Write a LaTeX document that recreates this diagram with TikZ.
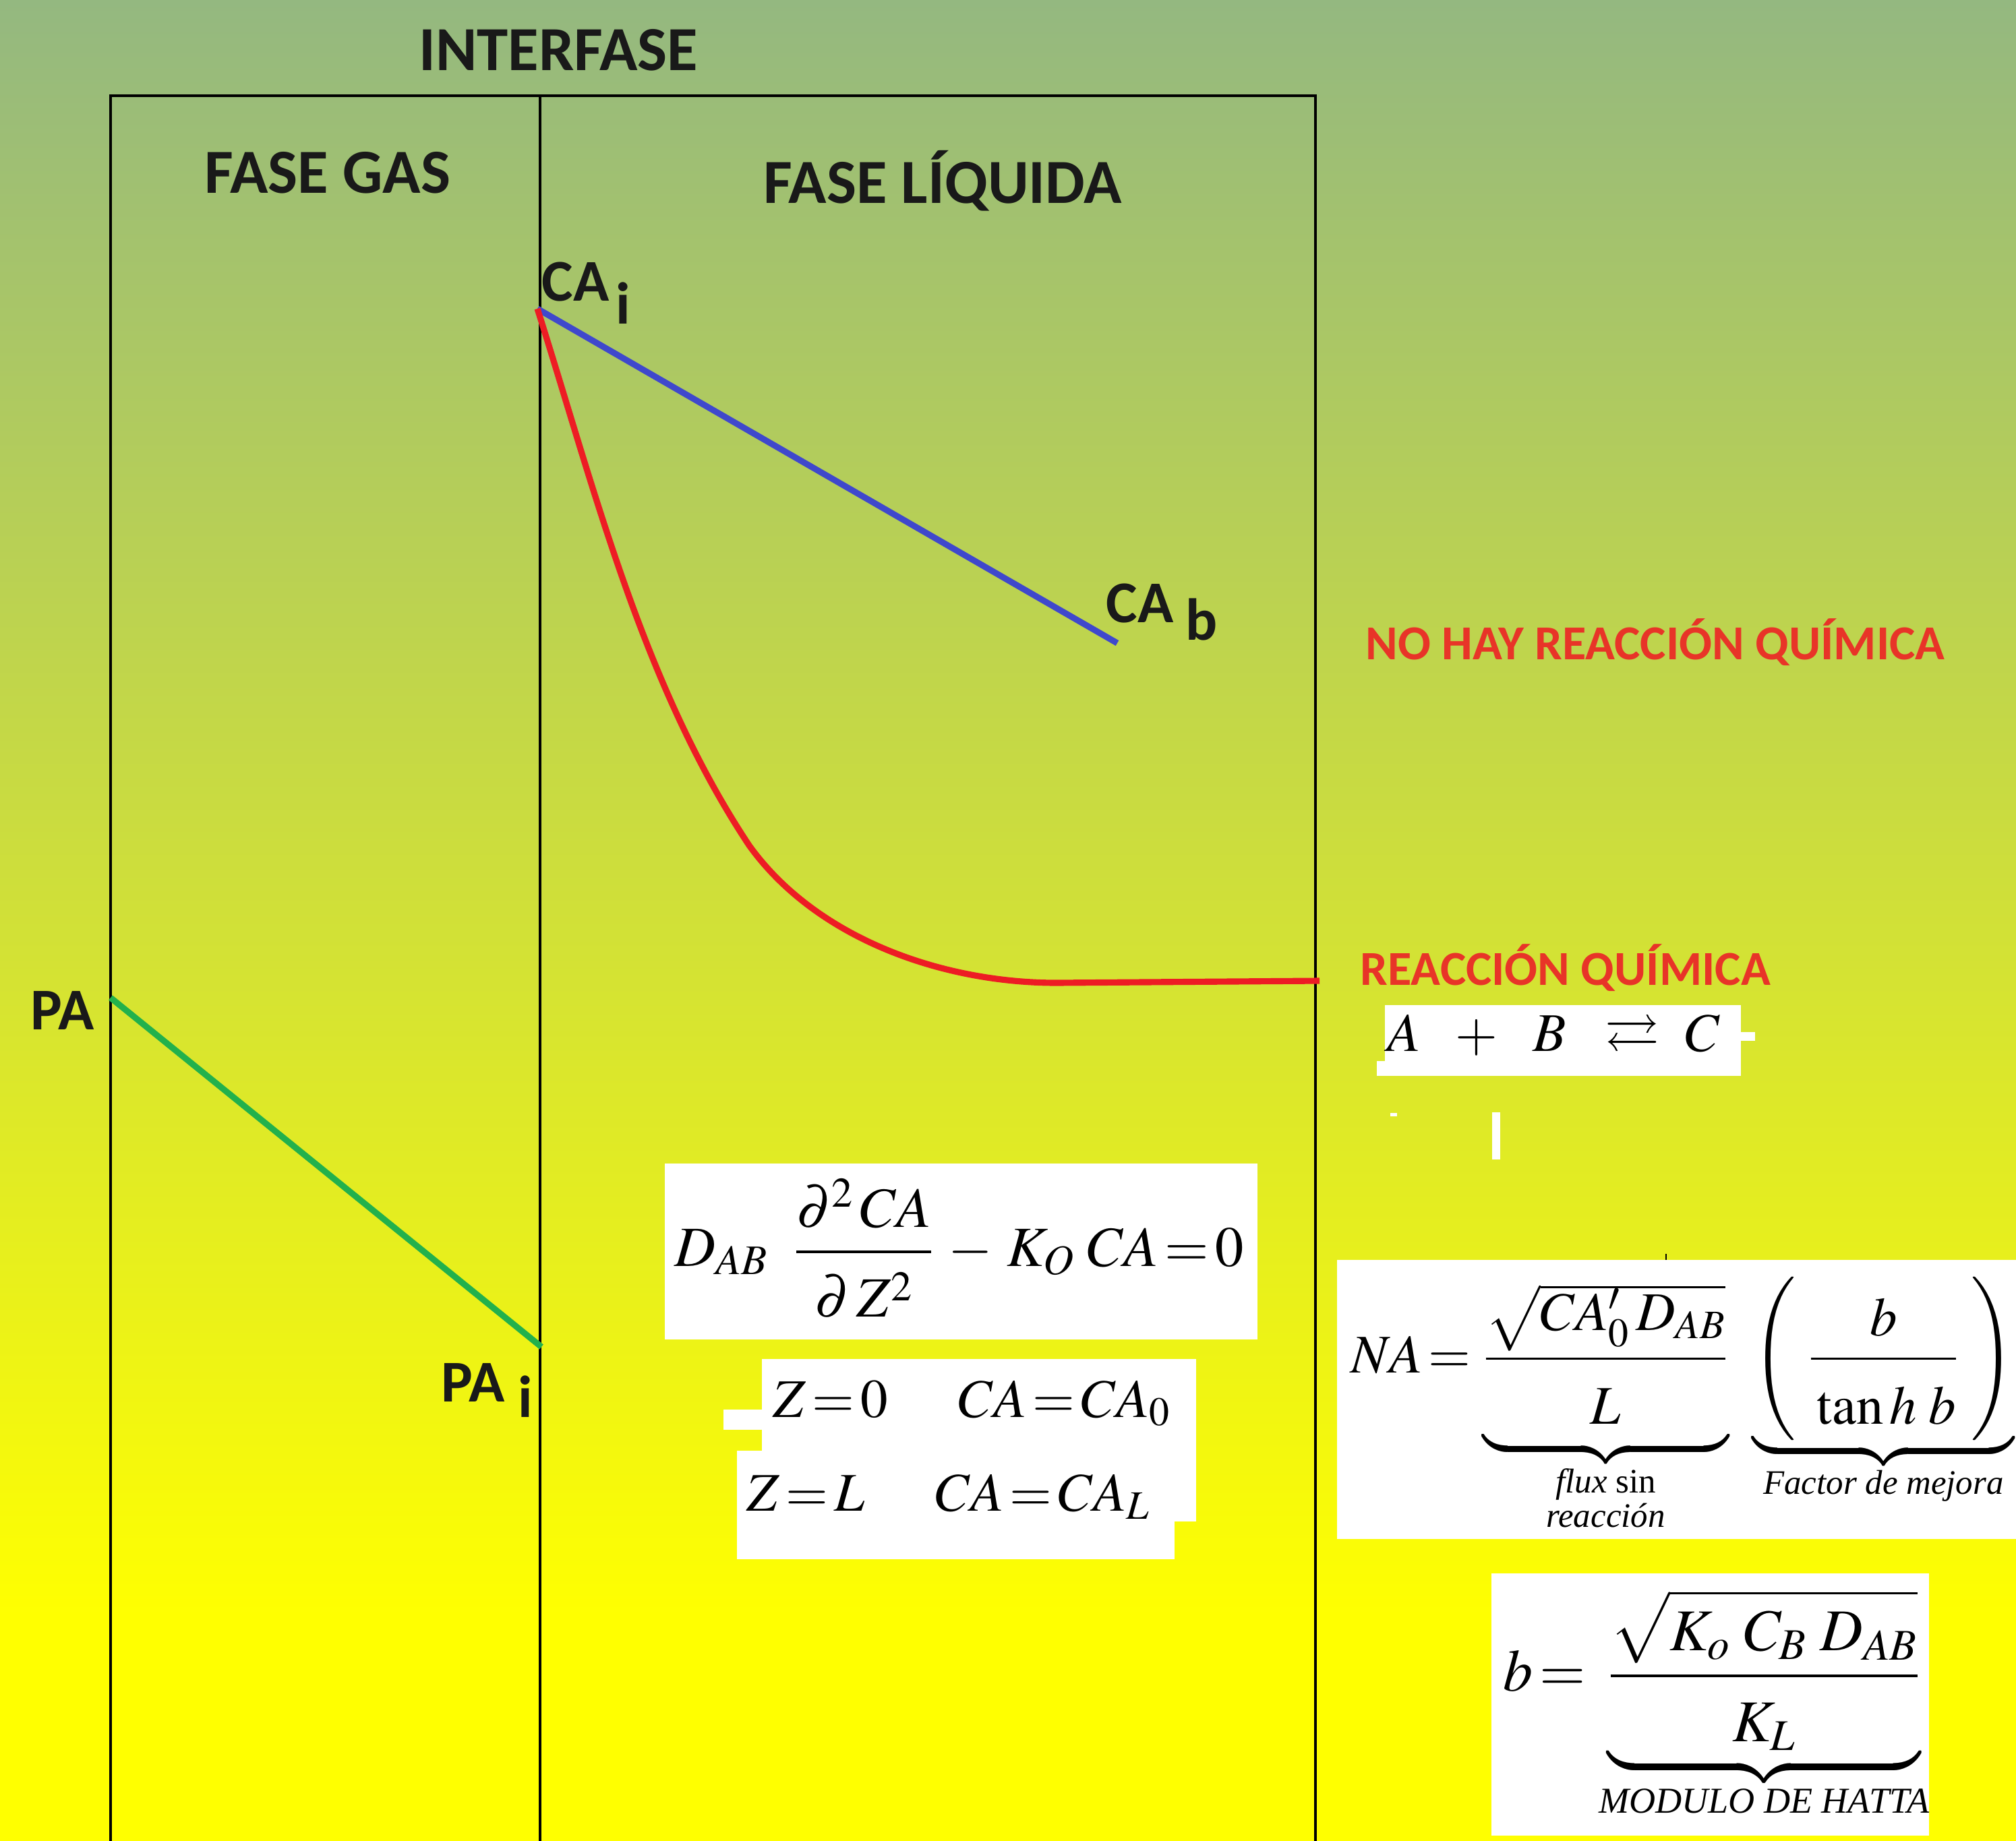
\documentclass[tikz,border=0pt]{standalone}
\usepackage{amsmath,amssymb}
\usepackage{mathptmx}
\usepackage{fontspec}
\setmainfont{Liberation Serif}
\newfontfamily\calibri{Carlito}
\usetikzlibrary{positioning, calc}

\definecolor{bgtop}{RGB}{148,184,128}
\definecolor{bgbot}{RGB}{255,255,0}
\definecolor{paintred}{RGB}{237,28,36}
\definecolor{paintblue}{RGB}{63,72,204}
\definecolor{paintgreen}{RGB}{34,177,76}
\definecolor{lblred}{RGB}{232,52,40}

% small italic text under the braces
\newcommand{\bracetxt}[2][14.5]{\text{\fontsize{#1}{#1}\selectfont #2}}
\newcommand{\deep}{\rule{0pt}{0.85cm}}
\newcommand{\deeper}{\rule[-0.22cm]{0pt}{1.07cm}}

\begin{document}
\begin{tikzpicture}[
    head/.style={font=\calibri\bfseries\fontsize{26.5}{30}\selectfont, text=black!90, inner sep=0pt},
    lbl/.style={font=\calibri\bfseries\fontsize{25}{30}\selectfont, text=black!90, inner sep=0pt},
    redlbl/.style={font=\calibri\bfseries\fontsize{20.6}{24}\selectfont, text=lblred, inner sep=0pt},
    eq/.style={font=\fontsize{23}{28}\selectfont, inner sep=0pt, anchor=base west},
    wbox/.style={fill=white},
    wall/.style={line width=1.1pt},
    prof/.style={line width=2.6pt}
]

% BACKGROUND (2990 x 2731 px, 1cm = 100px)
\useasboundingbox (0,0) rectangle (29.90,-27.31);
\shade[top color=bgtop, bottom color=bgbot] (0,0) rectangle (29.90,-24.0);
\fill[bgbot] (0,-24.0) rectangle (29.90,-27.31);

% PHASES
\draw[wall] (1.64,-27.31) -- (1.64,-1.42) -- (19.51,-1.42) -- (19.51,-27.31);
\draw[wall] (8.01,-1.42) -- (8.01,-27.31);

\node[head, anchor=base] (interfase) at (8.28,-1.05) {INTERFASE};
\node[head, anchor=base] (gas) at (4.86,-2.86) {FASE GAS};
\node[head, anchor=base] (liq) at (13.98,-3.01) {FASE LÍQUIDA};

% PROFILE POINTS
\coordinate (cai) at (7.97,-4.58);
\coordinate (cab) at (16.57,-9.54);
\coordinate (rmid) at (11.11,-12.54);
\coordinate (rflat) at (15.67,-14.58);
\coordinate (rend) at (19.57,-14.55);
\coordinate (pa) at (1.64,-14.80);
\coordinate (pai) at (8.03,-19.98);

\node[lbl, anchor=base west] (lcai) at (8.03,-4.46) {CA\kern0.1cm\raisebox{-0.34cm}{i}};
\node[lbl, anchor=base west] (lcab) at (16.40,-9.23) {CA\kern0.18cm\raisebox{-0.26cm}{b}};
\node[lbl, anchor=base west] (lpa) at (0.45,-15.27) {PA};
\node[lbl, anchor=base west] (lpai) at (6.54,-20.79) {PA\kern0.2cm\raisebox{-0.23cm}{i}};

% PROFILES
\draw[paintblue, prof] (cai) -- (cab);
\draw[paintred, prof] (cai) .. controls (8.82,-7.26) and (9.53,-10.16) .. (rmid)
    .. controls (12.10,-13.92) and (13.97,-14.58) .. (rflat) -- (rend);
\draw[paintgreen, prof] (pa) -- (pai);

% RED LABELS
\node[redlbl, anchor=base west] (nohay) at (20.25,-9.78) {NO HAY REACCIÓN QUÍMICA};
\node[redlbl, anchor=base west] (hay) at (20.17,-14.61) {REACCIÓN QUÍMICA};

% REACTION
\fill[wbox] (20.54,-14.91) rectangle (25.82,-15.96);
\fill[wbox] (20.42,-15.74) rectangle (20.54,-15.96);
\fill[wbox] (25.82,-15.31) rectangle (26.03,-15.44);
\fill[wbox] (20.62,-16.51) rectangle (20.72,-16.56);
\fill[wbox] (22.13,-16.50) rectangle (22.25,-17.20);
\node[eq] (reac) at (20.57,-15.59) {$A\ \ +\ \ B\ \ \rightleftarrows\ C$};

% DIFFERENTIAL EQUATION
\fill[wbox] (9.86,-17.26) rectangle (18.65,-19.87);
\node[eq, font=\fontsize{24}{28}\selectfont] (eqdif) at (10.00,-18.78)
    {$D_{AB}\;\;\dfrac{\partial^2\,CA}{\deep\partial\,Z^2}\,-\,K_O\;CA\,{=}\,0$};

% BOUNDARY CONDITIONS
\fill[wbox] (11.30,-20.16) rectangle (17.74,-22.57);
\fill[wbox] (10.93,-21.52) rectangle (17.42,-23.13);
\fill[wbox] (10.73,-20.91) rectangle (11.30,-21.21);
\node[eq] (z0) at (11.46,-21.02) {$Z\,{=}\,0\hspace{1.05cm}CA\,{=}\,CA_0$};
\node[eq] (zl) at (11.07,-22.41) {$Z\,{=}\,L\hspace{1.05cm}CA\,{=}\,CA_L$};

% FLUX
\fill[wbox] (19.83,-18.69) rectangle (29.90,-22.83);
\draw[line width=0.8pt] (24.71,-18.60) -- (24.71,-18.69);
\node[eq] (na) at (20.03,-20.36)
    {$NA\,{=}\,\underbrace{\dfrac{\sqrt{\rule{0pt}{0.45cm}\smash[t]{CA_0'}\,D_{AB}}}{\deeper L}}_{\bracetxt{\begin{tabular}{@{}c@{}}\textit{flux} sin\\ \textit{reacción}\end{tabular}}}\;\,
      \underbrace{\left(\;\dfrac{b}{\deep\tan h\;b}\rule[-0.95cm]{0pt}{0.95cm}\;\right)}_{\bracetxt{\textit{Factor de mejora}}}$};

% HATTA
\fill[wbox] (22.12,-23.34) rectangle (28.61,-27.23);
\node[eq, font=\fontsize{25}{30}\selectfont] (hatta) at (22.29,-25.08)
    {$b\,{=}\,\underbrace{\dfrac{\sqrt{\rule{0pt}{0.74cm}K_o\;C_B\;D_{AB}}}{\deeper K_L}}_{\bracetxt[15.4]{\textit{MODULO DE HATTA}}}$};

\end{tikzpicture}
\end{document}
